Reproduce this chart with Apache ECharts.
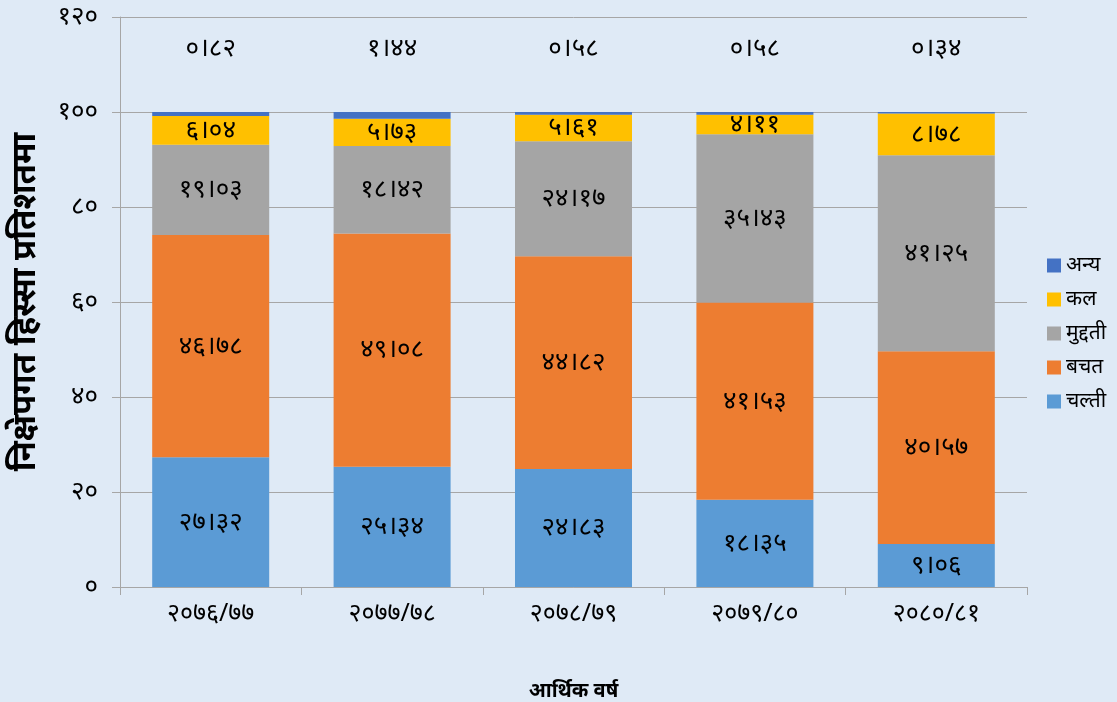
<!DOCTYPE html>
<html>
<head>
<meta charset="utf-8">
<script src="https://cdn.jsdelivr.net/npm/echarts@6/dist/echarts.min.js"></script>
<style>
  html, body { margin: 0; padding: 0; background: #dfeaf6; }
  #main { width: 1117px; height: 702px; }
</style>
</head>
<body>
<div id="main"></div>
<script>
// आर्थिक वर्ष
var years = ['२०७६/७७', '२०७७/७८', '२०७८/७९', '२०७९/८०', '२०८०/८१'];
// निक्षेपको हिस्सा (प्रतिशत)
var chalti = [27.32, 25.34, 24.83, 18.35, 9.06];
var bachat = [46.78, 49.08, 44.82, 41.53, 40.57];
var muddati = [19.03, 18.42, 24.17, 35.43, 41.25];
var kal = [6.04, 5.73, 5.61, 4.11, 8.78];
var anya = [0.82, 1.44, 0.58, 0.58, 0.34];

var font = "'Noto Sans', 'Noto Sans Devanagari', sans-serif";
var neDigits = ['०', '१', '२', '३', '४', '५', '६', '७', '८', '९'];

// अंक नेपालीमा बदल्ने
function toNe(v, dec) {
    var s = dec ? v.toFixed(dec) : String(v);
    return s.replace(/[0-9]/g, function (d) { return neDigits[+d]; }).replace('.', '।');
}

var myChart = echarts.init(document.getElementById('main'));

function bar(name, data, color, extra) {
    var s = {
        name: name,
        type: 'bar',
        stack: 'total',
        barWidth: '64.5%',
        data: data,
        itemStyle: { color: color },
        label: {
            show: true,
            position: 'inside',
            color: '#000',
            fontFamily: font,
            fontSize: 26,
            formatter: function (p) { return toNe(p.value, 2); }
        }
    };
    if (extra) Object.assign(s.label, extra);
    return s;
}

var option = {
    backgroundColor: '#dfeaf6',
    animation: false,
    grid: { left: 120, right: 90, top: 17, bottom: 115, containLabel: false, outerBoundsMode: 'none' },
    legend: {
        orient: 'vertical',
        left: 1042,
        top: 250,
        itemWidth: 14,
        itemHeight: 14,
        itemGap: 13,
        icon: 'rect',
        data: ['अन्य', 'कल', 'मुद्दती', 'बचत', 'चल्ती'],
        textStyle: { fontFamily: font, fontSize: 21, color: '#000' }
    },
    xAxis: {
        type: 'category',
        data: years,
        name: 'आर्थिक वर्ष',
        nameLocation: 'middle',
        nameGap: 94,
        nameTextStyle: { fontFamily: font, fontSize: 20, fontWeight: 'bold', color: '#000' },
        axisLine: { lineStyle: { color: '#a6a6a6' } },
        axisTick: { show: true, length: 8, lineStyle: { color: '#a6a6a6' } },
        axisLabel: { fontFamily: font, fontSize: 25, color: '#000', margin: 14 }
    },
    yAxis: {
        type: 'value',
        min: 0,
        max: 120,
        interval: 20,
        name: 'निक्षेपगत हिस्सा प्रतिशतमा',
        nameLocation: 'middle',
        nameGap: 78,
        nameTextStyle: { fontFamily: font, fontSize: 33, fontWeight: 'bold', color: '#000' },
        axisLine: { show: true, lineStyle: { color: '#a6a6a6' } },
        axisTick: { show: true, length: 8, lineStyle: { color: '#a6a6a6' } },
        splitLine: { lineStyle: { color: '#a6a6a6' } },
        axisLabel: {
            fontFamily: font, fontSize: 26, color: '#000', margin: 22,
            formatter: function (v) { return toNe(v); }
        }
    },
    series: [
        bar('चल्ती', chalti, '#5b9bd5'),
        bar('बचत', bachat, '#ed7d31'),
        bar('मुद्दती', muddati, '#a5a5a5'),
        bar('कल', kal, '#ffc000'),
        bar('अन्य', anya, '#4472c4', { position: 'top', distance: 50 })
    ]
};
myChart.setOption(option);
</script>
</body>
</html>
